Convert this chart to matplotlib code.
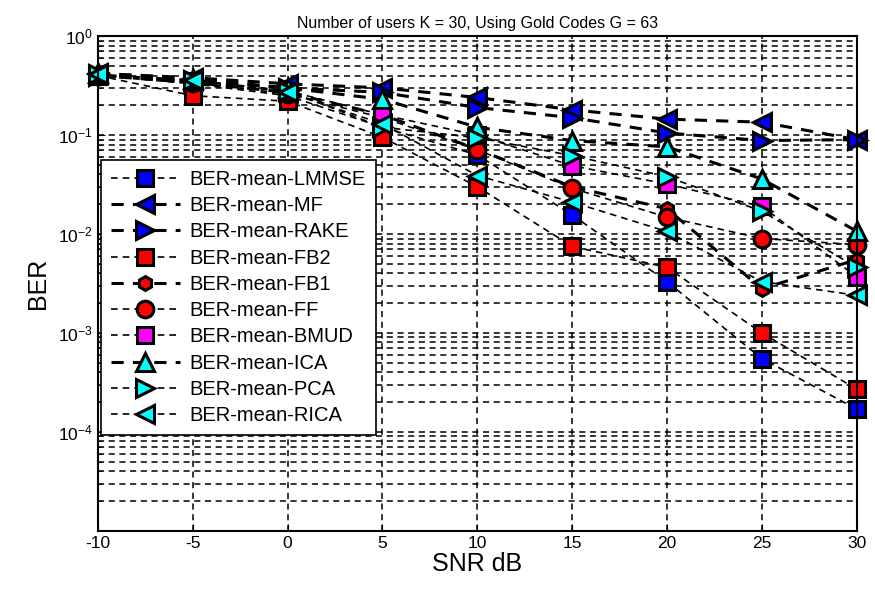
import numpy as np
import matplotlib
matplotlib.use("Agg")
import matplotlib.pyplot as plt
from matplotlib.ticker import LogLocator, NullFormatter

plt.rcParams['font.family'] = ['Liberation Sans', 'DejaVu Sans']
plt.rcParams['mathtext.default'] = 'regular'
plt.rcParams['axes.unicode_minus'] = False

snr = [-10, -5, 0, 5, 10, 15, 20, 25, 30]

ber_lmmse = [0.40, 0.33, 0.25, 0.12, 0.063, 0.0156, 0.0033, 0.00055, 0.00017]
ber_mf = [0.42, 0.38, 0.33, 0.30, 0.24, 0.18, 0.145, 0.135, 0.09]
ber_rake = [0.40, 0.35, 0.30, 0.27, 0.19, 0.15, 0.105, 0.088, 0.09]
ber_fb2 = [0.40, 0.25, 0.22, 0.095, 0.030, 0.0075, 0.0046, 0.001, 0.00027]
ber_fb1 = [0.40, 0.34, 0.27, 0.16, 0.072, 0.030, 0.018, 0.0028, 0.0055]
ber_ff = [0.40, 0.34, 0.26, 0.15, 0.071, 0.029, 0.0148, 0.009, 0.0078]
ber_bmud = [0.40, 0.35, 0.28, 0.16, 0.10, 0.049, 0.032, 0.019, 0.0037]
ber_ica = [0.42, 0.37, 0.30, 0.23, 0.12, 0.088, 0.076, 0.036, 0.0107]
ber_pca = [0.41, 0.36, 0.28, 0.12, 0.094, 0.062, 0.038, 0.017, 0.0046]
ber_rica = [0.41, 0.36, 0.27, 0.13, 0.039, 0.021, 0.0106, 0.0033, 0.0024]

labels = ['BER-mean-LMMSE', 'BER-mean-MF', 'BER-mean-RAKE', 'BER-mean-FB2',
          'BER-mean-FB1', 'BER-mean-FF', 'BER-mean-BMUD', 'BER-mean-ICA',
          'BER-mean-PCA', 'BER-mean-RICA']
series = [ber_lmmse, ber_mf, ber_rake, ber_fb2, ber_fb1, ber_ff, ber_bmud,
          ber_ica, ber_pca, ber_rica]
markers = ['s', '<', '>', 's', 'h', 'o', 's', '^', '>', '<']
colors = ['blue', 'blue', 'blue', 'red', 'red', 'red', 'magenta', 'cyan', 'cyan', 'cyan']
widths = [1.2, 2.2, 2.2, 1.2, 2.2, 1.2, 1.2, 2.2, 1.2, 1.2]
msizes = [12, 13, 13, 12, 10, 12, 12, 13, 13, 13]

fig = plt.figure(figsize=(8.75, 5.93), dpi=100)
ax = fig.add_axes([0.112, 0.105, 0.867, 0.834])

for y, lab, m, c, w, ms in zip(series, labels, markers, colors, widths, msizes):
    ax.semilogy(snr, y, linestyle=(0, (4, 3)), color='black', linewidth=w,
                marker=m, markersize=ms, markerfacecolor=c,
                markeredgecolor='black', markeredgewidth=2.2, label=lab,
                clip_on=False)

ax.set_xlim(-10, 30)
ax.set_ylim(1e-5, 1)
ax.set_xticks(snr)
ax.set_yticks([1e-4, 1e-3, 1e-2, 1e-1, 1])
ax.yaxis.set_minor_locator(LogLocator(base=10, subs=np.arange(2, 10)))
ax.yaxis.set_minor_formatter(NullFormatter())
ax.grid(True, which='major', axis='both', color='black', linestyle=(0, (4, 3)), linewidth=1.1)
ax.grid(True, which='minor', axis='y', color='black', linestyle=(0, (4, 3)), linewidth=1.1)
ax.tick_params(labelsize=12.5, direction='in', length=5)
ax.tick_params(which='minor', direction='in', length=3)
for s in ax.spines.values():
    s.set_linewidth(1.5)

ax.set_title('Number of users K = 30, Using Gold Codes G = 63', fontsize=11.5, pad=6)
ax.set_xlabel('SNR dB', fontsize=18, labelpad=1)
ax.set_ylabel('BER', fontsize=18, labelpad=6)

leg = ax.legend(loc='upper left', bbox_to_anchor=(0.004, 0.75), fontsize=14.5,
                handlelength=3.4, handletextpad=0.5, labelspacing=0.36,
                borderaxespad=0, borderpad=0.5,
                fancybox=False, framealpha=1, edgecolor='black')
leg.get_frame().set_linewidth(1.2)

fig.savefig('out.png', dpi=100)
